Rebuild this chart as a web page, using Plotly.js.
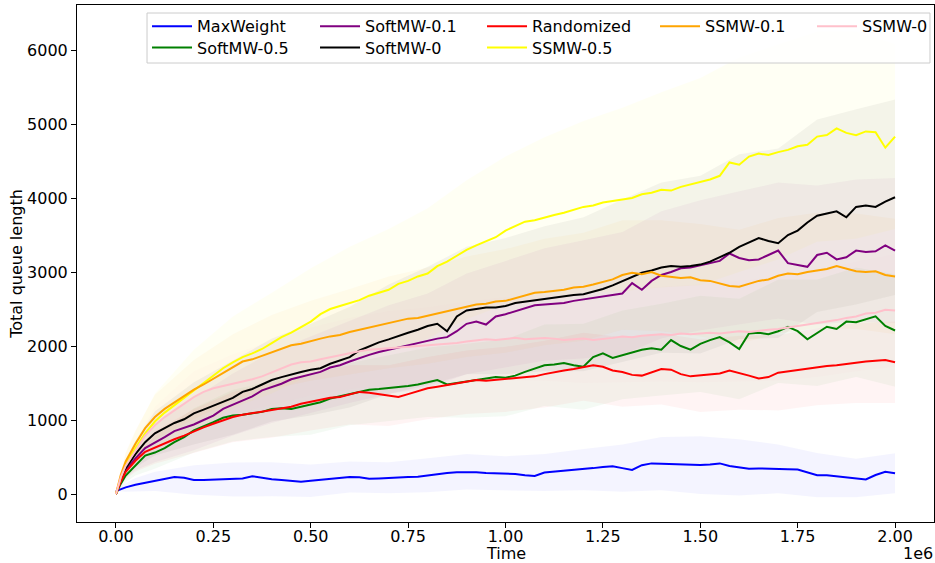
<!DOCTYPE html>
<html><head><meta charset="utf-8">
<script src="https://cdn.plot.ly/plotly-3.0.1.min.js"></script>
<style>html,body{margin:0;padding:0;background:#fff}#chart{width:935px;height:563px}</style>
</head><body><div id="chart"></div>
<script>
// time in units of 1e6
const timeM = [0,0.0125,0.025,0.05,0.075,0.1,
 0.125,0.15,0.175,0.2,0.225,0.25,0.275,0.3,0.325,0.35,0.375,0.4,0.425,0.45,0.475,0.5,
 0.525,0.55,0.575,0.6,0.625,0.65,0.675,0.7,0.725,0.75,0.775,0.8,0.825,0.85,0.875,0.9,0.925,0.95,0.975,1.0,
 1.025,1.05,1.075,1.1,1.125,1.15,1.175,1.2,1.225,1.25,1.275,1.3,1.325,1.35,1.375,1.4,1.425,1.45,1.475,1.5,
 1.525,1.55,1.575,1.6,1.625,1.65,1.675,1.7,1.725,1.75,1.775,1.8,1.825,1.85,1.875,1.9,1.925,1.95,1.975,2.0];

const maxWeight = [40,70,90,125,150,170,
 200,230,220,190,190,195,200,195,210,240,215,200,190,175,165,180,
 195,200,215,230,225,205,210,220,225,230,235,255,270,285,295,300,295,285,280,282,
 270,255,245,290,300,312,320,330,350,365,375,350,325,390,414,410,405,395,392,392,
 400,414,380,360,340,345,345,340,335,330,290,255,255,240,230,215,198,257,300,280];
const softMW05 = [0,140,250,390,520,560,
 620,700,770,860,910,970,1030,1060,1070,1090,1110,1150,1160,1150,1180,1200,
 1240,1290,1320,1350,1390,1410,1420,1430,1450,1460,1480,1510,1540,1480,1500,1530,1540,1560,1580,1570,
 1600,1650,1690,1740,1750,1770,1740,1720,1850,1900,1840,1880,1920,1950,1970,1950,2080,2000,1950,2030,
 2080,2120,2050,1960,2170,2180,2160,2200,2260,2200,2090,2180,2260,2230,2330,2320,2360,2400,2270,2210];
const softMW01 = [0,180,320,480,620,690,
 770,850,890,940,1000,1060,1150,1210,1270,1320,1400,1440,1490,1550,1580,1610,
 1650,1710,1740,1790,1840,1880,1920,1950,1990,2010,2040,2070,2100,2120,2200,2300,2330,2290,2400,2430,
 2470,2520,2550,2560,2570,2580,2610,2630,2650,2680,2700,2710,2850,2760,2880,2960,3000,3050,3060,3090,
 3120,3150,3250,3190,3160,3170,3230,3290,3120,3090,3070,3230,3260,3170,3200,3290,3270,3280,3360,3290];
const softMW0 = [0,200,350,540,700,820,
 890,960,1010,1090,1140,1190,1250,1300,1380,1420,1480,1540,1580,1620,1650,1680,
 1700,1760,1800,1850,1940,2000,2050,2090,2140,2180,2220,2270,2300,2200,2400,2480,2500,2520,2520,2540,
 2580,2600,2620,2640,2660,2670,2690,2700,2730,2770,2820,2880,2930,2990,3020,3060,3080,3070,3080,3100,
 3140,3200,3260,3340,3400,3460,3420,3390,3500,3560,3670,3760,3790,3820,3740,3880,3900,3880,3950,4010];
const randomized = [0,170,300,450,570,630,
 690,740,790,850,900,950,1000,1040,1070,1090,1110,1130,1150,1180,1220,1250,
 1270,1300,1310,1340,1380,1370,1350,1330,1310,1350,1390,1430,1450,1470,1500,1510,1540,1530,1540,1550,
 1560,1580,1590,1620,1650,1670,1690,1720,1740,1720,1670,1650,1610,1600,1650,1690,1680,1620,1590,1600,
 1610,1630,1670,1640,1600,1560,1580,1640,1660,1680,1700,1720,1730,1740,1760,1770,1790,1800,1810,1780];
const ssmw05 = [0,230,400,620,820,980,
 1100,1200,1300,1400,1500,1600,1700,1780,1850,1900,1960,2040,2120,2180,2250,2330,
 2430,2500,2540,2580,2620,2680,2720,2760,2840,2880,2940,2980,3080,3140,3220,3300,3360,3420,3470,3560,
 3620,3680,3700,3740,3770,3800,3840,3880,3900,3940,3960,3980,4000,4050,4070,4110,4100,4150,4180,4220,
 4250,4300,4480,4450,4560,4600,4580,4620,4650,4700,4720,4830,4850,4940,4880,4850,4900,4890,4680,4830];
const ssmw01 = [0,260,440,680,890,1040,
 1150,1240,1320,1410,1480,1560,1640,1710,1790,1820,1870,1920,1960,2010,2030,2070,
 2100,2130,2150,2190,2220,2250,2290,2320,2350,2370,2380,2410,2440,2470,2500,2530,2560,2570,2600,2610,
 2650,2690,2720,2730,2740,2760,2790,2800,2830,2860,2900,2960,2990,2970,3000,2950,2940,2920,2930,2890,
 2880,2840,2810,2800,2840,2880,2900,2950,2980,2970,3000,3020,3040,3080,3050,3010,3000,3010,2960,2940];
const ssmw0 = [0,230,380,580,790,930,
 1040,1130,1220,1310,1380,1430,1460,1490,1510,1550,1590,1640,1700,1750,1780,1790,
 1820,1850,1880,1900,1930,1950,1960,1970,1980,1990,1990,2000,2010,2030,2040,2060,2080,2090,2080,2100,
 2110,2090,2100,2110,2100,2080,2090,2100,2080,2090,2110,2130,2120,2140,2150,2160,2150,2170,2160,2170,
 2180,2170,2190,2200,2190,2210,2220,2230,2250,2260,2280,2300,2330,2350,2380,2400,2440,2450,2490,2480];

// spread (standard deviation) at coarse times
const bandTimeM = [0,0.025,0.05,0.1,0.2,0.3,0.4,0.5,0.6,0.7,0.8,0.9,1.0,1.1,1.2,1.3,1.4,1.5,1.6,1.7,1.8,1.9,2.0];
const maxWeightStd = [0,60,90,130,200,230,230,220,210,210,230,240,230,250,280,320,360,390,380,330,300,260,270];
const softMW05Std = [0,90,140,220,300,350,380,400,420,450,470,500,520,550,580,600,620,650,680,700,720,740,760];
const softMW01Std = [0,100,160,260,350,420,480,520,560,600,640,680,720,760,800,830,860,880,900,920,940,960,980];
const softMW0Std = [0,120,180,300,420,500,560,620,680,740,800,860,920,980,1040,1100,1150,1200,1250,1280,1300,1320,1320];
const randomizedStd = [0,100,150,220,300,340,370,390,400,410,420,430,440,450,460,470,480,490,500,510,520,540,550];
const ssmw05Std = [0,150,220,380,550,620,680,720,760,820,880,940,1000,1080,1160,1240,1320,1400,1450,1450,1420,1400,1250];
const ssmw01Std = [0,120,180,300,400,450,500,540,580,620,650,680,700,720,730,740,750,760,770,780,780,780,780];
const ssmw0Std = [0,90,140,250,350,400,430,460,480,500,520,540,560,580,600,620,640,660,680,700,720,740,760];

const xTickVals = [0,0.25,0.5,0.75,1.0,1.25,1.5,1.75,2.0];
const xTickText = ['0.00','0.25','0.50','0.75','1.00','1.25','1.50','1.75','2.00'];
const yTickVals = [0,1000,2000,3000,4000,5000,6000];
const yTickText = ['0','1000','2000','3000','4000','5000','6000'];

// plotting order (matplotlib), legend placement: row / column width
const series = [
  {name:'MaxWeight',  rgb:'0,0,255',     mean:maxWeight,  std:maxWeightStd,  legend:'legend',  lw:113},
  {name:'SoftMW-0.5', rgb:'0,128,0',     mean:softMW05,   std:softMW05Std,   legend:'legend2', lw:113},
  {name:'SoftMW-0.1', rgb:'128,0,128',   mean:softMW01,   std:softMW01Std,   legend:'legend',  lw:112},
  {name:'SoftMW-0',   rgb:'0,0,0',       mean:softMW0,    std:softMW0Std,    legend:'legend2', lw:112},
  {name:'Randomized', rgb:'255,0,0',     mean:randomized, std:randomizedStd, legend:'legend',  lw:118},
  {name:'SSMW-0.5',   rgb:'255,255,0',   mean:ssmw05,     std:ssmw05Std,     legend:'legend2', lw:118},
  {name:'SSMW-0.1',   rgb:'255,165,0',   mean:ssmw01,     std:ssmw01Std,     legend:'legend',  lw:102},
  {name:'SSMW-0',     rgb:'255,192,203', mean:ssmw0,      std:ssmw0Std,      legend:'legend',  lw:65}
];
const legendOrder = ['MaxWeight','SoftMW-0.1','Randomized','SSMW-0.1','SSMW-0','SoftMW-0.5','SoftMW-0','SSMW-0.5'];

const bandIdx = bandTimeM.map(t => timeM.findIndex(v => Math.abs(v - t) < 1e-9));
const traces = [];
series.forEach(s => {
  const xs = [], ys = [];
  bandIdx.forEach((idx, j) => { xs.push(timeM[idx]*1e6); ys.push(s.mean[idx] + s.std[j]); });
  for (let j = bandIdx.length - 1; j >= 0; j--) { xs.push(timeM[bandIdx[j]]*1e6); ys.push(s.mean[bandIdx[j]] - s.std[j]); }
  traces.push({x:xs, y:ys, type:'scatter', mode:'lines', fill:'toself',
    fillcolor:'rgba(' + s.rgb + ',0.045)', line:{width:0}, showlegend:false, hoverinfo:'skip'});
});
series.forEach(s => {
  traces.push({x:timeM.map(t => t*1e6), y:s.mean, type:'scatter', mode:'lines', name:s.name,
    line:{color:'rgb(' + s.rgb + ')', width:2}, legend:s.legend, legendwidth:s.lw,
    legendrank: legendOrder.indexOf(s.name) + 1});
});

const font = {family:'DejaVu Sans, sans-serif', size:16, color:'#000'};
const legendCommon = {orientation:'h', xanchor:'left', yanchor:'top', bgcolor:'rgba(0,0,0,0)',
  borderwidth:0, font:font, itemwidth:40, tracegroupgap:0, traceorder:'normal'};

const layout = {
  width:935, height:563,
  margin:{l:77, r:1, t:5, b:41},
  paper_bgcolor:'#fff', plot_bgcolor:'#fff',
  font:font,
  xaxis:{range:[-1e5, 2.1e6], tickvals:xTickVals.map(v=>v*1e6), ticktext:xTickText,
    ticks:'outside', ticklen:5, tickwidth:1, tickcolor:'#000', showline:true, linecolor:'#000', linewidth:1,
    mirror:true, showgrid:false, zeroline:false, tickfont:font, ticklabelstandoff:-5},
  yaxis:{range:[-378, 6608], tickvals:yTickVals, ticktext:yTickText,
    ticks:'outside', ticklen:5, tickwidth:1, tickcolor:'#000', showline:true, linecolor:'#000', linewidth:1,
    mirror:true, showgrid:false, zeroline:false, tickfont:font,
    title:{text:'Total queue length', font:font, standoff:0}},
  legend:Object.assign({x:0.0817, y:0.9917}, legendCommon),
  legend2:Object.assign({x:0.0817, y:0.9507}, legendCommon),
  shapes:[{type:'rect', xref:'paper', yref:'paper', x0:0.0817, x1:0.9953, y0:0.8878, y1:0.9845,
    fillcolor:'rgba(255,255,255,0.8)', line:{color:'#cccccc', width:1}, layer:'above'}],
  annotations:[
    {text:'Time', xref:'paper', yref:'paper', x:0.5, y:0, xanchor:'center', yanchor:'top',
      yshift:-21, borderpad:0, showarrow:false, font:font},
    {text:'1e6', xref:'paper', yref:'paper', x:1, y:0, xanchor:'right', yanchor:'top',
      yshift:-21, borderpad:0, showarrow:false, font:font}]
};
Plotly.newPlot('chart', traces, layout, {displayModeBar:false, staticPlot:true});
</script></body></html>
